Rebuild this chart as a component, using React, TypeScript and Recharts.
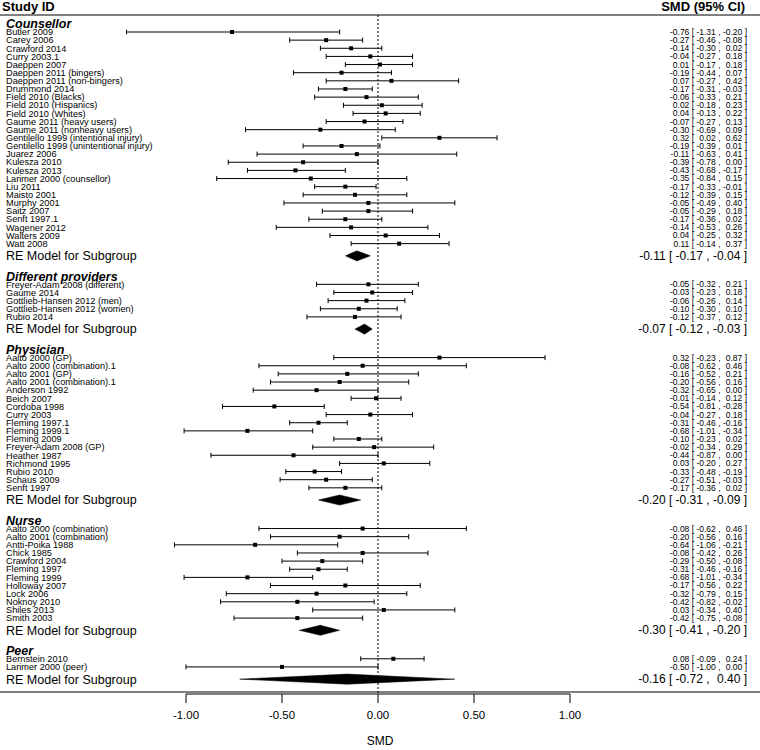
import React from 'react'
import { ScatterChart, Scatter, XAxis, YAxis, ErrorBar, ReferenceLine } from 'recharts'

type Study = [string, number, number, number] // label, SMD, lower, upper

const groupNames = ['Counsellor', 'Different providers', 'Physician', 'Nurse', 'Peer']

const counsellor: Study[] = [
  ['Butler 2009', -0.76, -1.31, -0.20],
  ['Carey 2006', -0.27, -0.46, -0.08],
  ['Crawford 2014', -0.14, -0.30, 0.02],
  ['Curry 2003.1', -0.04, -0.27, 0.18],
  ['Daeppen 2007', 0.01, -0.17, 0.18],
  ['Daeppen 2011 (bingers)', -0.19, -0.44, 0.07],
  ['Daeppen 2011 (non-bingers)', 0.07, -0.27, 0.42],
  ['Drummond 2014', -0.17, -0.31, -0.03],
  ['Field 2010 (Blacks)', -0.06, -0.33, 0.21],
  ['Field 2010 (Hispanics)', 0.02, -0.18, 0.23],
  ['Field 2010 (Whites)', 0.04, -0.13, 0.22],
  ['Gaume 2011 (heavy users)', -0.07, -0.27, 0.13],
  ['Gaume 2011 (nonheavy users)', -0.30, -0.69, 0.09],
  ['Gentilello 1999 (intentional injury)', 0.32, 0.02, 0.62],
  ['Gentilello 1999 (unintentional injury)', -0.19, -0.39, 0.01],
  ['Juarez 2006', -0.11, -0.63, 0.41],
  ['Kulesza 2010', -0.39, -0.78, 0.00],
  ['Kulesza 2013', -0.43, -0.68, -0.17],
  ['Larimer 2000 (counsellor)', -0.35, -0.84, 0.15],
  ['Liu 2011', -0.17, -0.33, -0.01],
  ['Maisto 2001', -0.12, -0.39, 0.15],
  ['Murphy 2001', -0.05, -0.49, 0.40],
  ['Saitz 2007', -0.05, -0.29, 0.18],
  ['Senft 1997.1', -0.17, -0.36, 0.02],
  ['Wagener 2012', -0.14, -0.53, 0.26],
  ['Walters 2009', 0.04, -0.25, 0.32],
  ['Watt 2008', 0.11, -0.14, 0.37],
]

const differentProviders: Study[] = [
  ['Freyer-Adam 2008 (different)', -0.05, -0.32, 0.21],
  ['Gaume 2014', -0.03, -0.23, 0.18],
  ['Gottlieb-Hansen 2012 (men)', -0.06, -0.26, 0.14],
  ['Gottlieb-Hansen 2012 (women)', -0.10, -0.30, 0.10],
  ['Rubio 2014', -0.12, -0.37, 0.12],
]

const physician: Study[] = [
  ['Aalto 2000 (GP)', 0.32, -0.23, 0.87],
  ['Aalto 2000 (combination).1', -0.08, -0.62, 0.46],
  ['Aalto 2001 (GP)', -0.16, -0.52, 0.21],
  ['Aalto 2001 (combination).1', -0.20, -0.56, 0.16],
  ['Anderson 1992', -0.32, -0.65, 0.00],
  ['Beich 2007', -0.01, -0.14, 0.12],
  ['Cordoba 1998', -0.54, -0.81, -0.28],
  ['Curry 2003', -0.04, -0.27, 0.18],
  ['Fleming 1997.1', -0.31, -0.46, -0.16],
  ['Fleming 1999.1', -0.68, -1.01, -0.34],
  ['Fleming 2009', -0.10, -0.23, 0.02],
  ['Freyer-Adam 2008 (GP)', -0.02, -0.34, 0.29],
  ['Heather 1987', -0.44, -0.87, 0.00],
  ['Richmond 1995', 0.03, -0.20, 0.27],
  ['Rubio 2010', -0.33, -0.48, -0.19],
  ['Schaus 2009', -0.27, -0.51, -0.03],
  ['Senft 1997', -0.17, -0.36, 0.02],
]

const nurse: Study[] = [
  ['Aalto 2000 (combination)', -0.08, -0.62, 0.46],
  ['Aalto 2001 (combination)', -0.20, -0.56, 0.16],
  ['Antti-Poika 1988', -0.64, -1.06, -0.21],
  ['Chick 1985', -0.08, -0.42, 0.26],
  ['Crawford 2004', -0.29, -0.50, -0.08],
  ['Fleming 1997', -0.31, -0.46, -0.16],
  ['Fleming 1999', -0.68, -1.01, -0.34],
  ['Holloway 2007', -0.17, -0.56, 0.22],
  ['Lock 2006', -0.32, -0.79, 0.15],
  ['Noknoy 2010', -0.42, -0.82, -0.02],
  ['Shiles 2013', 0.03, -0.34, 0.40],
  ['Smith 2003', -0.42, -0.75, -0.08],
]

const peer: Study[] = [
  ['Bernstein 2010', 0.08, -0.09, 0.24],
  ['Larimer 2000 (peer)', -0.50, -1.00, 0.00],
]

const groupStudies = [counsellor, differentProviders, physician, nurse, peer]

// RE model per subgroup: SMD, lower, upper
const summaries = [
  [-0.11, -0.17, -0.04],
  [-0.07, -0.12, -0.03],
  [-0.20, -0.31, -0.09],
  [-0.30, -0.41, -0.20],
  [-0.16, -0.72, 0.40],
]

const xTicks = [-1, -0.5, 0, 0.5, 1]

// layout (px -> data units)
const PX = 192
const X_MIN = -378 / PX
const X_MAX = 382 / PX
const ROW = 8.14
const Y_TOP = -32 / ROW
const Y_BOTTOM = 662 / ROW
const TOP_LINE = -17 / ROW
const BOTTOM_LINE = 660 / ROW
const HEAD_ROW = -25.5 / ROW
const DIA = 0.62
const FONT = '"Liberation Sans", Arial, Helvetica, sans-serif'

const fmt = (v: number) => v.toFixed(2)

const points: any[] = []
const diamonds: any[] = []
const labels: any[] = []
const values: any[] = []

labels.push({ x: X_MIN + 2 / PX, y: HEAD_ROW, text: 'Study ID', kind: 'title' })
values.push({ x: X_MIN + 745 / PX, y: HEAD_ROW, text: 'SMD (95% CI)', kind: 'title' })

let start = 0
groupNames.forEach((g, gi) => {
  const studies = groupStudies[gi]
  labels.push({ x: X_MIN + 6 / PX, y: start - 1, text: g, kind: 'group' })
  studies.forEach(([name, est, lo, hi], i) => {
    const y = start + i
    points.push({ x: est, y, err: [est - lo, hi - est] })
    labels.push({ x: X_MIN + 6 / PX, y, text: name, kind: 'study' })
    values.push({ x: X_MIN + 747 / PX, y, est, lo, hi, kind: 'study' })
  })
  const [est, lo, hi] = summaries[gi]
  const sy = start + studies.length + 0.5
  diamonds.push({ x: lo, y: sy }, { x: est, y: sy - DIA }, { x: hi, y: sy }, { x: est, y: sy + DIA })
  labels.push({ x: X_MIN + 6 / PX, y: sy, text: 'RE Model for Subgroup', kind: 'summary' })
  values.push({ x: X_MIN + 747 / PX, y: sy, est, lo, hi, kind: 'summary' })
  start += studies.length + 4
})

function LabelShape(p: any) {
  const d = p.payload
  let style: any = { fontSize: 9.2 }
  if (d.kind === 'title') style = { fontSize: 13, fontWeight: 'bold' }
  if (d.kind === 'group') style = { fontSize: 12.5, fontWeight: 'bold', fontStyle: 'italic' }
  if (d.kind === 'summary') style = { fontSize: 12.5 }
  return (
    <text x={p.cx} y={p.cy} dy="0.35em" fill="#000" fontFamily={FONT} {...style}>{d.text}</text>
  )
}

function ValueShape(p: any) {
  const d = p.payload
  if (d.kind === 'title') {
    return <text x={p.cx} y={p.cy} dy="0.35em" textAnchor="end" fill="#000" fontFamily={FONT} fontSize={13} fontWeight="bold">{d.text}</text>
  }
  const f = d.kind === 'summary' ? 12 : 8.5
  const parts: [string, number][] = [
    [fmt(d.est), 6.782], ['[', 6.226], [fmt(d.lo), 3.669], [',', 3.113], [fmt(d.hi), 0.556], [']', 0],
  ]
  return (
    <g>
      {parts.map(([t, o], i) => (
        <text key={i} x={p.cx - o * f} y={p.cy} dy="0.35em" textAnchor="end" fill="#000" fontFamily={FONT} fontSize={f}>{t}</text>
      ))}
    </g>
  )
}

function SquareShape(p: any) {
  return <rect x={p.cx - 2} y={p.cy - 2} width={4} height={4} fill="#000" />
}

function DiamondLine(p: any) {
  const pts = (p.points || []).map((q: any) => [q.x ?? q.cx, q.y ?? q.cy])
  const paths = []
  for (let i = 0; i + 3 < pts.length; i += 4) {
    const c = pts.slice(i, i + 4)
    paths.push(<path key={i} d={`M${c[0][0]},${c[0][1]}L${c[1][0]},${c[1][1]}L${c[2][0]},${c[2][1]}L${c[3][0]},${c[3][1]}Z`} fill="#000" stroke="#000" strokeWidth={0.5} />)
  }
  return <g>{paths}</g>
}

export default function App() {
  return (
    <div style={{ position: 'absolute', left: 0, top: 0, width: 760, height: 750, background: '#fff' }}>
      <ScatterChart width={760} height={750} margin={{ top: 0, right: 0, bottom: 0, left: 0 }}>
        <XAxis
          type="number"
          dataKey="x"
          domain={[X_MIN, X_MAX]}
          allowDataOverflow
          ticks={xTicks}
          interval={0}
          tickFormatter={(v: number) => v.toFixed(2)}
          axisLine={false}
          tickLine={{ stroke: '#000' }}
          tickSize={9}
          tickMargin={8}
          height={56}
          tick={{ fill: '#000', fontSize: 11.5, fontFamily: FONT }}
          label={{ value: 'SMD', position: 'insideBottom', offset: 5, fill: '#000', fontSize: 12, fontFamily: FONT }}
        />
        <YAxis type="number" dataKey="y" domain={[Y_TOP, Y_BOTTOM]} allowDataOverflow reversed hide width={0} />
        <ReferenceLine y={TOP_LINE} stroke="#000" strokeWidth={1.2} />
        <ReferenceLine y={BOTTOM_LINE} stroke="#000" strokeWidth={1.2} />
        <ReferenceLine segment={[{ x: -1, y: Y_BOTTOM }, { x: 1, y: Y_BOTTOM }]} stroke="#000" strokeWidth={1} ifOverflow="visible" />
        <ReferenceLine segment={[{ x: 0, y: TOP_LINE }, { x: 0, y: Y_BOTTOM }]} stroke="#000" strokeDasharray="2 2" strokeWidth={1} />
        <Scatter data={points} shape={SquareShape} isAnimationActive={false}>
          <ErrorBar dataKey="err" direction="x" width={2.5} stroke="#000" strokeWidth={1} />
        </Scatter>
        <Scatter data={diamonds} shape={() => <g />} line={DiamondLine} isAnimationActive={false} />
        <Scatter data={labels} shape={LabelShape} isAnimationActive={false} />
        <Scatter data={values} shape={ValueShape} isAnimationActive={false} />
      </ScatterChart>
    </div>
  )
}
